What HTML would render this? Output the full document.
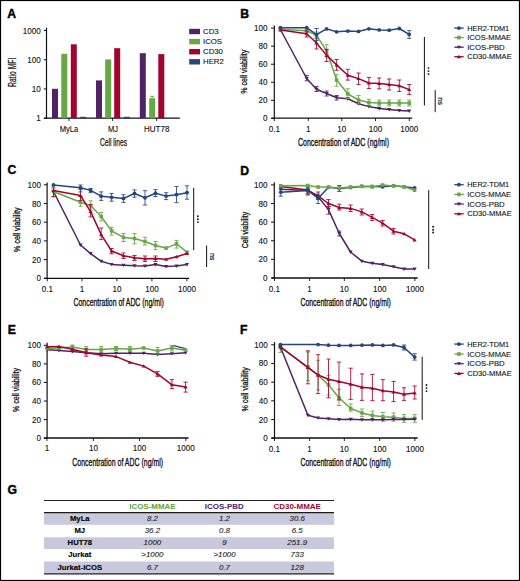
<!DOCTYPE html>
<html><head><meta charset="utf-8"><style>
html,body{margin:0;padding:0;background:#fff;}
svg{display:block;}
text{font-family:"Liberation Sans",sans-serif;}
</style></head><body>
<svg width="520" height="581" viewBox="0 0 520 581">
<rect x="0" y="0" width="520" height="581" fill="#fff"/>
<text x="7.2" y="17.6" font-size="12.2" text-anchor="start" stroke="#000" stroke-width="0.4" font-weight="bold" fill="#000">A</text>
<line x1="46.5" y1="27.7" x2="46.5" y2="118.7" stroke="#111" stroke-width="1.2"/>
<line x1="43.8" y1="118.2" x2="46.5" y2="118.2" stroke="#111" stroke-width="1"/>
<text x="40.8" y="121.2" font-size="8.9" text-anchor="end" stroke="#111" stroke-width="0.12" fill="#111" textLength="4.5" lengthAdjust="spacingAndGlyphs">1</text>
<line x1="43.8" y1="88.96666666666667" x2="46.5" y2="88.96666666666667" stroke="#111" stroke-width="1"/>
<text x="40.8" y="91.96666666666667" font-size="8.9" text-anchor="end" stroke="#111" stroke-width="0.12" fill="#111" textLength="9.01" lengthAdjust="spacingAndGlyphs">10</text>
<line x1="43.8" y1="59.733333333333334" x2="46.5" y2="59.733333333333334" stroke="#111" stroke-width="1"/>
<text x="40.8" y="62.733333333333334" font-size="8.9" text-anchor="end" stroke="#111" stroke-width="0.12" fill="#111" textLength="13.51" lengthAdjust="spacingAndGlyphs">100</text>
<line x1="43.8" y1="30.5" x2="46.5" y2="30.5" stroke="#111" stroke-width="1"/>
<text x="40.8" y="33.5" font-size="8.9" text-anchor="end" stroke="#111" stroke-width="0.12" fill="#111" textLength="18.02" lengthAdjust="spacingAndGlyphs">1000</text>
<line x1="44" y1="118.2" x2="179.8" y2="118.2" stroke="#111" stroke-width="1.3"/>
<line x1="69" y1="118.2" x2="69" y2="121" stroke="#111" stroke-width="0.9"/>
<line x1="112.6" y1="118.2" x2="112.6" y2="121" stroke="#111" stroke-width="0.9"/>
<line x1="156.6" y1="118.2" x2="156.6" y2="121" stroke="#111" stroke-width="0.9"/>
<rect x="52" y="88.8" width="6" height="29.400000000000006" fill="#502366"/>
<rect x="61.3" y="53.8" width="6" height="64.4" fill="#66a843"/>
<rect x="70.8" y="44.3" width="6" height="73.9" fill="#a3042f"/>
<rect x="80.1" y="116.8" width="6" height="1.4000000000000057" fill="#24467f"/>
<rect x="96" y="80.4" width="6" height="37.8" fill="#502366"/>
<rect x="105.2" y="59.4" width="6" height="58.800000000000004" fill="#66a843"/>
<rect x="114.2" y="48.2" width="6" height="70.0" fill="#a3042f"/>
<rect x="123.7" y="116.8" width="6" height="1.4000000000000057" fill="#24467f"/>
<rect x="139.8" y="53.2" width="6" height="65.0" fill="#502366"/>
<rect x="149.2" y="98.2" width="6" height="20.0" fill="#66a843"/>
<rect x="158.3" y="54.1" width="6" height="64.1" fill="#a3042f"/>
<line x1="150.2" y1="96.3" x2="154.2" y2="96.3" stroke="#66a843" stroke-width="1"/>
<line x1="152.2" y1="96.3" x2="152.2" y2="98.2" stroke="#66a843" stroke-width="1"/>
<text x="69" y="131.5" font-size="8.5" text-anchor="middle" stroke="#111" stroke-width="0.12" fill="#111" textLength="18.6" lengthAdjust="spacingAndGlyphs">MyLa</text>
<text x="113" y="131.7" font-size="8.5" text-anchor="middle" stroke="#111" stroke-width="0.12" fill="#111" textLength="10" lengthAdjust="spacingAndGlyphs">MJ</text>
<text x="156.7" y="131.7" font-size="8.5" text-anchor="middle" stroke="#111" stroke-width="0.12" fill="#111" textLength="25.4" lengthAdjust="spacingAndGlyphs">HUT78</text>
<text x="99.9" y="145.5" font-size="11.3" text-anchor="start" stroke="#111" stroke-width="0.25" fill="#111" textLength="27.2" lengthAdjust="spacingAndGlyphs">Cell lines</text>
<text x="15.8" y="72.3" font-size="11.6" text-anchor="middle" stroke="#111" stroke-width="0.25" fill="#111" textLength="29.3" lengthAdjust="spacingAndGlyphs" transform="rotate(-90 15.8 72.3)">Ratio MFI</text>
<rect x="189.2" y="28.8" width="10.8" height="5.4" fill="#502366"/>
<text x="203" y="34.0" font-size="7.8" text-anchor="start" stroke="#111" stroke-width="0.1" fill="#111">CD3</text>
<rect x="189.2" y="38.9" width="10.8" height="5.4" fill="#66a843"/>
<text x="203" y="44.1" font-size="7.8" text-anchor="start" stroke="#111" stroke-width="0.1" fill="#111">ICOS</text>
<rect x="189.2" y="49.0" width="10.8" height="5.4" fill="#a3042f"/>
<text x="203" y="54.2" font-size="7.8" text-anchor="start" stroke="#111" stroke-width="0.1" fill="#111">CD30</text>
<rect x="189.2" y="59.099999999999994" width="10.8" height="5.4" fill="#24467f"/>
<text x="203" y="64.3" font-size="7.8" text-anchor="start" stroke="#111" stroke-width="0.1" fill="#111">HER2</text>
<text x="240.2" y="17.7" font-size="12.2" text-anchor="start" stroke="#000" stroke-width="0.4" font-weight="bold" fill="#000">B</text>
<line x1="274.3" y1="25.4" x2="274.3" y2="118.8" stroke="#111" stroke-width="1.2"/>
<line x1="271.0" y1="118.4" x2="274.3" y2="118.4" stroke="#111" stroke-width="1"/>
<text x="267.6" y="121.4" font-size="8.9" text-anchor="end" stroke="#111" stroke-width="0.12" fill="#111" textLength="4.5" lengthAdjust="spacingAndGlyphs">0</text>
<line x1="271.0" y1="100.34" x2="274.3" y2="100.34" stroke="#111" stroke-width="1"/>
<text x="267.6" y="103.34" font-size="8.9" text-anchor="end" stroke="#111" stroke-width="0.12" fill="#111" textLength="9.01" lengthAdjust="spacingAndGlyphs">20</text>
<line x1="271.0" y1="82.28" x2="274.3" y2="82.28" stroke="#111" stroke-width="1"/>
<text x="267.6" y="85.28" font-size="8.9" text-anchor="end" stroke="#111" stroke-width="0.12" fill="#111" textLength="9.01" lengthAdjust="spacingAndGlyphs">40</text>
<line x1="271.0" y1="64.22" x2="274.3" y2="64.22" stroke="#111" stroke-width="1"/>
<text x="267.6" y="67.22" font-size="8.9" text-anchor="end" stroke="#111" stroke-width="0.12" fill="#111" textLength="9.01" lengthAdjust="spacingAndGlyphs">60</text>
<line x1="271.0" y1="46.16" x2="274.3" y2="46.16" stroke="#111" stroke-width="1"/>
<text x="267.6" y="49.16" font-size="8.9" text-anchor="end" stroke="#111" stroke-width="0.12" fill="#111" textLength="9.01" lengthAdjust="spacingAndGlyphs">80</text>
<line x1="271.0" y1="28.099999999999994" x2="274.3" y2="28.099999999999994" stroke="#111" stroke-width="1"/>
<text x="267.6" y="31.099999999999994" font-size="8.9" text-anchor="end" stroke="#111" stroke-width="0.12" fill="#111" textLength="13.51" lengthAdjust="spacingAndGlyphs">100</text>
<line x1="271.4" y1="118.2" x2="412.3" y2="118.2" stroke="#111" stroke-width="1.3"/>
<line x1="274.3" y1="118.2" x2="274.3" y2="121.2" stroke="#111" stroke-width="0.9"/>
<text x="274.3" y="131.9" font-size="8.9" text-anchor="middle" stroke="#111" stroke-width="0.12" fill="#111" textLength="11.26" lengthAdjust="spacingAndGlyphs">0.1</text>
<line x1="308.3" y1="118.2" x2="308.3" y2="121.2" stroke="#111" stroke-width="0.9"/>
<text x="308.3" y="131.9" font-size="8.9" text-anchor="middle" stroke="#111" stroke-width="0.12" fill="#111" textLength="4.5" lengthAdjust="spacingAndGlyphs">1</text>
<line x1="341.8" y1="118.2" x2="341.8" y2="121.2" stroke="#111" stroke-width="0.9"/>
<text x="341.8" y="131.9" font-size="8.9" text-anchor="middle" stroke="#111" stroke-width="0.12" fill="#111" textLength="9.01" lengthAdjust="spacingAndGlyphs">10</text>
<line x1="375.5" y1="118.2" x2="375.5" y2="121.2" stroke="#111" stroke-width="0.9"/>
<text x="375.5" y="131.9" font-size="8.9" text-anchor="middle" stroke="#111" stroke-width="0.12" fill="#111" textLength="13.51" lengthAdjust="spacingAndGlyphs">100</text>
<line x1="409.3" y1="118.2" x2="409.3" y2="121.2" stroke="#111" stroke-width="0.9"/>
<text x="409.3" y="131.9" font-size="8.9" text-anchor="middle" stroke="#111" stroke-width="0.12" fill="#111" textLength="18.02" lengthAdjust="spacingAndGlyphs">1000</text>
<text x="298" y="145.7" font-size="11.8" text-anchor="start" stroke="#111" stroke-width="0.35" fill="#111" textLength="91" lengthAdjust="spacingAndGlyphs">Concentration of ADC (ng/ml)</text>
<text x="247.3" y="71.75" font-size="9.3" text-anchor="middle" stroke="#111" stroke-width="0.3" fill="#111" textLength="43.9" lengthAdjust="spacingAndGlyphs" transform="rotate(-90 247.3 71.75)">% cell viability</text>
<line x1="454.3" y1="28.1" x2="463.7" y2="28.1" stroke="#24467f" stroke-width="1.3"/>
<circle cx="458.9" cy="28.1" r="1.9" fill="#24467f"/>
<text x="467.2" y="30.700000000000003" font-size="7.5" text-anchor="start" stroke="#111" stroke-width="0.1" fill="#111" textLength="42" lengthAdjust="spacingAndGlyphs">HER2-TDM1</text>
<line x1="454.3" y1="37.6" x2="463.7" y2="37.6" stroke="#66a843" stroke-width="1.3"/>
<rect x="457.09999999999997" y="35.800000000000004" width="3.6" height="3.6" fill="#66a843"/>
<text x="467.2" y="40.2" font-size="7.5" text-anchor="start" stroke="#111" stroke-width="0.1" fill="#111" textLength="44" lengthAdjust="spacingAndGlyphs">ICOS-MMAE</text>
<line x1="454.3" y1="47.2" x2="463.7" y2="47.2" stroke="#502366" stroke-width="1.3"/>
<path d="M456.79999999999995,45.7L461.0,45.7L458.9,49.1Z" fill="#502366"/>
<text x="467.2" y="49.800000000000004" font-size="7.5" text-anchor="start" stroke="#111" stroke-width="0.1" fill="#111" textLength="37.5" lengthAdjust="spacingAndGlyphs">ICOS-PBD</text>
<line x1="454.3" y1="56.7" x2="463.7" y2="56.7" stroke="#a3042f" stroke-width="1.3"/>
<path d="M456.79999999999995,58.2L461.0,58.2L458.9,54.800000000000004Z" fill="#a3042f"/>
<text x="467.2" y="59.300000000000004" font-size="7.5" text-anchor="start" stroke="#111" stroke-width="0.1" fill="#111" textLength="44.5" lengthAdjust="spacingAndGlyphs">CD30-MMAE</text>
<line x1="424.4" y1="37" x2="424.4" y2="105.5" stroke="#111" stroke-width="1"/>
<circle cx="428.5" cy="68.1" r="0.95" fill="#111"/>
<circle cx="428.5" cy="71.1" r="0.95" fill="#111"/>
<circle cx="428.5" cy="74.1" r="0.95" fill="#111"/>
<line x1="435.2" y1="90.2" x2="435.2" y2="112.2" stroke="#111" stroke-width="1"/>
<text x="438.1" y="101.1" font-size="7.4" text-anchor="middle" stroke="#111" stroke-width="0.2" fill="#111" textLength="7.799999999999997" lengthAdjust="spacingAndGlyphs" transform="rotate(90 438.1 101.1)">ns</text>
<path d="M280.4,29.5 L306.7,78.5 L316.5,89.2 L326.6,93.5 L336.6,97.7 L347.8,98.8 L358.5,103.8 L368.9,106.6 L379.2,108.5 L389.2,109.6 L399.3,110.6 L409.2,111.0" fill="none" stroke="#502366" stroke-width="1.5" stroke-linejoin="round"/>
<path d="M306.7,75.4V80.8M304.6,75.4H308.8M304.6,80.8H308.8" stroke="#502366" stroke-width="1" fill="none" opacity="0.85"/>
<path d="M316.5,86.5V91.5M314.4,86.5H318.6M314.4,91.5H318.6" stroke="#502366" stroke-width="1" fill="none" opacity="0.85"/>
<path d="M326.6,91.0V96.0M324.5,91.0H328.7M324.5,96.0H328.7" stroke="#502366" stroke-width="1" fill="none" opacity="0.85"/>
<path d="M336.6,95.5V100.0M334.5,95.5H338.7M334.5,100.0H338.7" stroke="#502366" stroke-width="1" fill="none" opacity="0.85"/>
<path d="M278.29999999999995,28.0L282.5,28.0L280.4,31.4Z" fill="#502366"/>
<path d="M304.59999999999997,77.0L308.8,77.0L306.7,80.4Z" fill="#502366"/>
<path d="M314.4,87.7L318.6,87.7L316.5,91.10000000000001Z" fill="#502366"/>
<path d="M324.5,92.0L328.70000000000005,92.0L326.6,95.4Z" fill="#502366"/>
<path d="M334.5,96.2L338.70000000000005,96.2L336.6,99.60000000000001Z" fill="#502366"/>
<path d="M345.7,97.3L349.90000000000003,97.3L347.8,100.7Z" fill="#502366"/>
<path d="M356.4,102.3L360.6,102.3L358.5,105.7Z" fill="#502366"/>
<path d="M366.79999999999995,105.1L371.0,105.1L368.9,108.5Z" fill="#502366"/>
<path d="M377.09999999999997,107.0L381.3,107.0L379.2,110.4Z" fill="#502366"/>
<path d="M387.09999999999997,108.1L391.3,108.1L389.2,111.5Z" fill="#502366"/>
<path d="M397.2,109.1L401.40000000000003,109.1L399.3,112.5Z" fill="#502366"/>
<path d="M407.09999999999997,109.5L411.3,109.5L409.2,112.9Z" fill="#502366"/>
<path d="M280.4,29.2 L306.7,30.8 L316.5,35.4 L326.6,50.8 L336.6,80.0 L347.8,93.8 L358.5,100.0 L368.9,102.6 L379.2,103.0 L389.2,103.1 L399.3,103.1 L409.2,103.1" fill="none" stroke="#66a843" stroke-width="1.5" stroke-linejoin="round"/>
<path d="M306.7,29.0V33.0M304.6,29.0H308.8M304.6,33.0H308.8" stroke="#66a843" stroke-width="1" fill="none" opacity="0.85"/>
<path d="M316.5,32.0V39.0M314.4,32.0H318.6M314.4,39.0H318.6" stroke="#66a843" stroke-width="1" fill="none" opacity="0.85"/>
<path d="M326.6,44.7V57.0M324.5,44.7H328.7M324.5,57.0H328.7" stroke="#66a843" stroke-width="1" fill="none" opacity="0.85"/>
<path d="M336.6,74.6V86.2M334.5,74.6H338.7M334.5,86.2H338.7" stroke="#66a843" stroke-width="1" fill="none" opacity="0.85"/>
<path d="M347.8,88.8V98.5M345.7,88.8H349.9M345.7,98.5H349.9" stroke="#66a843" stroke-width="1" fill="none" opacity="0.85"/>
<path d="M358.5,95.4V103.8M356.4,95.4H360.6M356.4,103.8H360.6" stroke="#66a843" stroke-width="1" fill="none" opacity="0.85"/>
<path d="M368.9,99.2V106.0M366.8,99.2H371.0M366.8,106.0H371.0" stroke="#66a843" stroke-width="1" fill="none" opacity="0.85"/>
<path d="M379.2,100.0V106.0M377.1,100.0H381.3M377.1,106.0H381.3" stroke="#66a843" stroke-width="1" fill="none" opacity="0.85"/>
<path d="M389.2,100.0V106.0M387.1,100.0H391.3M387.1,106.0H391.3" stroke="#66a843" stroke-width="1" fill="none" opacity="0.85"/>
<path d="M399.3,100.0V106.0M397.2,100.0H401.4M397.2,106.0H401.4" stroke="#66a843" stroke-width="1" fill="none" opacity="0.85"/>
<path d="M409.2,100.0V106.0M407.1,100.0H411.3M407.1,106.0H411.3" stroke="#66a843" stroke-width="1" fill="none" opacity="0.85"/>
<rect x="278.59999999999997" y="27.4" width="3.6" height="3.6" fill="#66a843"/>
<rect x="304.9" y="29.0" width="3.6" height="3.6" fill="#66a843"/>
<rect x="314.7" y="33.6" width="3.6" height="3.6" fill="#66a843"/>
<rect x="324.8" y="49.0" width="3.6" height="3.6" fill="#66a843"/>
<rect x="334.8" y="78.2" width="3.6" height="3.6" fill="#66a843"/>
<rect x="346.0" y="92.0" width="3.6" height="3.6" fill="#66a843"/>
<rect x="356.7" y="98.2" width="3.6" height="3.6" fill="#66a843"/>
<rect x="367.09999999999997" y="100.8" width="3.6" height="3.6" fill="#66a843"/>
<rect x="377.4" y="101.2" width="3.6" height="3.6" fill="#66a843"/>
<rect x="387.4" y="101.3" width="3.6" height="3.6" fill="#66a843"/>
<rect x="397.5" y="101.3" width="3.6" height="3.6" fill="#66a843"/>
<rect x="407.4" y="101.3" width="3.6" height="3.6" fill="#66a843"/>
<path d="M280.4,30.0 L306.7,33.8 L316.5,43.0 L326.6,55.4 L336.6,64.9 L347.8,75.2 L358.5,78.6 L368.9,83.0 L379.2,83.4 L389.2,84.6 L399.3,85.8 L409.2,89.6" fill="none" stroke="#a3042f" stroke-width="1.5" stroke-linejoin="round"/>
<path d="M306.7,31.0V37.0M304.6,31.0H308.8M304.6,37.0H308.8" stroke="#a3042f" stroke-width="1" fill="none" opacity="0.85"/>
<path d="M316.5,38.0V49.0M314.4,38.0H318.6M314.4,49.0H318.6" stroke="#a3042f" stroke-width="1" fill="none" opacity="0.85"/>
<path d="M326.6,49.4V61.5M324.5,49.4H328.7M324.5,61.5H328.7" stroke="#a3042f" stroke-width="1" fill="none" opacity="0.85"/>
<path d="M336.6,59.5V70.3M334.5,59.5H338.7M334.5,70.3H338.7" stroke="#a3042f" stroke-width="1" fill="none" opacity="0.85"/>
<path d="M347.8,69.3V80.1M345.7,69.3H349.9M345.7,80.1H349.9" stroke="#a3042f" stroke-width="1" fill="none" opacity="0.85"/>
<path d="M358.5,73.0V84.6M356.4,73.0H360.6M356.4,84.6H360.6" stroke="#a3042f" stroke-width="1" fill="none" opacity="0.85"/>
<path d="M368.9,77.4V88.5M366.8,77.4H371.0M366.8,88.5H371.0" stroke="#a3042f" stroke-width="1" fill="none" opacity="0.85"/>
<path d="M379.2,78.0V88.8M377.1,78.0H381.3M377.1,88.8H381.3" stroke="#a3042f" stroke-width="1" fill="none" opacity="0.85"/>
<path d="M389.2,79.0V90.0M387.1,79.0H391.3M387.1,90.0H391.3" stroke="#a3042f" stroke-width="1" fill="none" opacity="0.85"/>
<path d="M399.3,80.0V91.5M397.2,80.0H401.4M397.2,91.5H401.4" stroke="#a3042f" stroke-width="1" fill="none" opacity="0.85"/>
<path d="M409.2,84.5V94.5M407.1,84.5H411.3M407.1,94.5H411.3" stroke="#a3042f" stroke-width="1" fill="none" opacity="0.85"/>
<path d="M278.29999999999995,31.5L282.5,31.5L280.4,28.1Z" fill="#a3042f"/>
<path d="M304.59999999999997,35.3L308.8,35.3L306.7,31.9Z" fill="#a3042f"/>
<path d="M314.4,44.5L318.6,44.5L316.5,41.1Z" fill="#a3042f"/>
<path d="M324.5,56.9L328.70000000000005,56.9L326.6,53.5Z" fill="#a3042f"/>
<path d="M334.5,66.4L338.70000000000005,66.4L336.6,63.00000000000001Z" fill="#a3042f"/>
<path d="M345.7,76.7L349.90000000000003,76.7L347.8,73.3Z" fill="#a3042f"/>
<path d="M356.4,80.1L360.6,80.1L358.5,76.69999999999999Z" fill="#a3042f"/>
<path d="M366.79999999999995,84.5L371.0,84.5L368.9,81.1Z" fill="#a3042f"/>
<path d="M377.09999999999997,84.9L381.3,84.9L379.2,81.5Z" fill="#a3042f"/>
<path d="M387.09999999999997,86.1L391.3,86.1L389.2,82.69999999999999Z" fill="#a3042f"/>
<path d="M397.2,87.3L401.40000000000003,87.3L399.3,83.89999999999999Z" fill="#a3042f"/>
<path d="M407.09999999999997,91.1L411.3,91.1L409.2,87.69999999999999Z" fill="#a3042f"/>
<path d="M280.4,27.7 L306.7,27.7 L316.5,34.6 L326.6,28.9 L336.6,31.8 L347.8,31.1 L358.5,31.4 L368.9,28.8 L379.2,29.9 L389.2,30.2 L399.3,28.5 L409.2,34.4" fill="none" stroke="#24467f" stroke-width="1.5" stroke-linejoin="round"/>
<path d="M316.5,28.5V40.5M314.4,28.5H318.6M314.4,40.5H318.6" stroke="#24467f" stroke-width="1" fill="none" opacity="0.85"/>
<path d="M409.2,30.6V38.4M407.1,30.6H411.3M407.1,38.4H411.3" stroke="#24467f" stroke-width="1" fill="none" opacity="0.85"/>
<circle cx="280.4" cy="27.7" r="1.9" fill="#24467f"/>
<circle cx="306.7" cy="27.7" r="1.9" fill="#24467f"/>
<circle cx="316.5" cy="34.6" r="1.9" fill="#24467f"/>
<circle cx="326.6" cy="28.9" r="1.9" fill="#24467f"/>
<circle cx="336.6" cy="31.8" r="1.9" fill="#24467f"/>
<circle cx="347.8" cy="31.1" r="1.9" fill="#24467f"/>
<circle cx="358.5" cy="31.4" r="1.9" fill="#24467f"/>
<circle cx="368.9" cy="28.8" r="1.9" fill="#24467f"/>
<circle cx="379.2" cy="29.9" r="1.9" fill="#24467f"/>
<circle cx="389.2" cy="30.2" r="1.9" fill="#24467f"/>
<circle cx="399.3" cy="28.5" r="1.9" fill="#24467f"/>
<circle cx="409.2" cy="34.4" r="1.9" fill="#24467f"/>
<text x="7.5" y="174.4" font-size="12.2" text-anchor="start" stroke="#000" stroke-width="0.4" font-weight="bold" fill="#000">C</text>
<line x1="47.1" y1="182.5" x2="47.1" y2="278.90000000000003" stroke="#111" stroke-width="1.2"/>
<line x1="43.800000000000004" y1="278.3" x2="47.1" y2="278.3" stroke="#111" stroke-width="1"/>
<text x="40.9" y="281.3" font-size="8.9" text-anchor="end" stroke="#111" stroke-width="0.12" fill="#111" textLength="4.5" lengthAdjust="spacingAndGlyphs">0</text>
<line x1="43.800000000000004" y1="259.6" x2="47.1" y2="259.6" stroke="#111" stroke-width="1"/>
<text x="40.9" y="262.6" font-size="8.9" text-anchor="end" stroke="#111" stroke-width="0.12" fill="#111" textLength="9.01" lengthAdjust="spacingAndGlyphs">20</text>
<line x1="43.800000000000004" y1="240.9" x2="47.1" y2="240.9" stroke="#111" stroke-width="1"/>
<text x="40.9" y="243.9" font-size="8.9" text-anchor="end" stroke="#111" stroke-width="0.12" fill="#111" textLength="9.01" lengthAdjust="spacingAndGlyphs">40</text>
<line x1="43.800000000000004" y1="222.20000000000002" x2="47.1" y2="222.20000000000002" stroke="#111" stroke-width="1"/>
<text x="40.9" y="225.20000000000002" font-size="8.9" text-anchor="end" stroke="#111" stroke-width="0.12" fill="#111" textLength="9.01" lengthAdjust="spacingAndGlyphs">60</text>
<line x1="43.800000000000004" y1="203.5" x2="47.1" y2="203.5" stroke="#111" stroke-width="1"/>
<text x="40.9" y="206.5" font-size="8.9" text-anchor="end" stroke="#111" stroke-width="0.12" fill="#111" textLength="9.01" lengthAdjust="spacingAndGlyphs">80</text>
<line x1="43.800000000000004" y1="184.8" x2="47.1" y2="184.8" stroke="#111" stroke-width="1"/>
<text x="40.9" y="187.8" font-size="8.9" text-anchor="end" stroke="#111" stroke-width="0.12" fill="#111" textLength="13.51" lengthAdjust="spacingAndGlyphs">100</text>
<line x1="44" y1="278.3" x2="189.2" y2="278.3" stroke="#111" stroke-width="1.3"/>
<line x1="47.3" y1="278.3" x2="47.3" y2="281.3" stroke="#111" stroke-width="0.9"/>
<text x="47.3" y="291.7" font-size="8.9" text-anchor="middle" stroke="#111" stroke-width="0.12" fill="#111" textLength="11.26" lengthAdjust="spacingAndGlyphs">0.1</text>
<line x1="82" y1="278.3" x2="82" y2="281.3" stroke="#111" stroke-width="0.9"/>
<text x="82" y="291.7" font-size="8.9" text-anchor="middle" stroke="#111" stroke-width="0.12" fill="#111" textLength="4.5" lengthAdjust="spacingAndGlyphs">1</text>
<line x1="116.9" y1="278.3" x2="116.9" y2="281.3" stroke="#111" stroke-width="0.9"/>
<text x="116.9" y="291.7" font-size="8.9" text-anchor="middle" stroke="#111" stroke-width="0.12" fill="#111" textLength="9.01" lengthAdjust="spacingAndGlyphs">10</text>
<line x1="151.9" y1="278.3" x2="151.9" y2="281.3" stroke="#111" stroke-width="0.9"/>
<text x="151.9" y="291.7" font-size="8.9" text-anchor="middle" stroke="#111" stroke-width="0.12" fill="#111" textLength="13.51" lengthAdjust="spacingAndGlyphs">100</text>
<line x1="186.9" y1="278.3" x2="186.9" y2="281.3" stroke="#111" stroke-width="0.9"/>
<text x="186.9" y="291.7" font-size="8.9" text-anchor="middle" stroke="#111" stroke-width="0.12" fill="#111" textLength="18.02" lengthAdjust="spacingAndGlyphs">1000</text>
<text x="73.5" y="305.8" font-size="11.8" text-anchor="start" stroke="#111" stroke-width="0.35" fill="#111" textLength="90.3" lengthAdjust="spacingAndGlyphs">Concentration of ADC (ng/ml)</text>
<text x="20.2" y="229.7" font-size="9.3" text-anchor="middle" stroke="#111" stroke-width="0.3" fill="#111" textLength="44.6" lengthAdjust="spacingAndGlyphs" transform="rotate(-90 20.2 229.7)">% cell viability</text>
<path d="M53.5,191.5 L80.5,245.0 L90.6,253.6 L101.2,261.3 L111.6,264.4 L123.5,265.2 L134.5,265.8 L145.0,266.1 L155.5,264.5 L166.1,266.5 L176.5,266.1 L187.0,264.5" fill="none" stroke="#502366" stroke-width="1.5" stroke-linejoin="round"/>
<path d="M51.4,190.0L55.6,190.0L53.5,193.4Z" fill="#502366"/>
<path d="M78.4,243.5L82.6,243.5L80.5,246.9Z" fill="#502366"/>
<path d="M88.5,252.1L92.69999999999999,252.1L90.6,255.5Z" fill="#502366"/>
<path d="M99.10000000000001,259.8L103.3,259.8L101.2,263.2Z" fill="#502366"/>
<path d="M109.5,262.9L113.69999999999999,262.9L111.6,266.29999999999995Z" fill="#502366"/>
<path d="M121.4,263.7L125.6,263.7L123.5,267.09999999999997Z" fill="#502366"/>
<path d="M132.4,264.3L136.6,264.3L134.5,267.7Z" fill="#502366"/>
<path d="M142.9,264.6L147.1,264.6L145,268.0Z" fill="#502366"/>
<path d="M153.4,263.0L157.6,263.0L155.5,266.4Z" fill="#502366"/>
<path d="M164.0,265.0L168.2,265.0L166.1,268.4Z" fill="#502366"/>
<path d="M174.4,264.6L178.6,264.6L176.5,268.0Z" fill="#502366"/>
<path d="M184.9,263.0L189.1,263.0L187,266.4Z" fill="#502366"/>
<path d="M53.5,191.5 L80.5,202.3 L90.6,205.6 L101.2,216.5 L111.6,230.9 L123.5,237.4 L134.5,238.5 L145.0,241.5 L155.5,245.5 L166.1,248.1 L176.5,243.9 L187.0,252.2" fill="none" stroke="#66a843" stroke-width="1.5" stroke-linejoin="round"/>
<path d="M53.5,186.0V197.0M51.4,186.0H55.6M51.4,197.0H55.6" stroke="#66a843" stroke-width="1" fill="none" opacity="0.85"/>
<path d="M80.5,196.9V206.2M78.4,196.9H82.6M78.4,206.2H82.6" stroke="#66a843" stroke-width="1" fill="none" opacity="0.85"/>
<path d="M90.6,200.8V210.2M88.5,200.8H92.7M88.5,210.2H92.7" stroke="#66a843" stroke-width="1" fill="none" opacity="0.85"/>
<path d="M101.2,212.5V221.0M99.1,212.5H103.3M99.1,221.0H103.3" stroke="#66a843" stroke-width="1" fill="none" opacity="0.85"/>
<path d="M111.6,227.2V235.0M109.5,227.2H113.7M109.5,235.0H113.7" stroke="#66a843" stroke-width="1" fill="none" opacity="0.85"/>
<path d="M123.5,233.5V241.5M121.4,233.5H125.6M121.4,241.5H125.6" stroke="#66a843" stroke-width="1" fill="none" opacity="0.85"/>
<path d="M134.5,233.5V243.9M132.4,233.5H136.6M132.4,243.9H136.6" stroke="#66a843" stroke-width="1" fill="none" opacity="0.85"/>
<path d="M145.0,237.3V245.0M142.9,237.3H147.1M142.9,245.0H147.1" stroke="#66a843" stroke-width="1" fill="none" opacity="0.85"/>
<path d="M155.5,241.5V249.6M153.4,241.5H157.6M153.4,249.6H157.6" stroke="#66a843" stroke-width="1" fill="none" opacity="0.85"/>
<path d="M176.5,240.4V248.1M174.4,240.4H178.6M174.4,248.1H178.6" stroke="#66a843" stroke-width="1" fill="none" opacity="0.85"/>
<rect x="51.7" y="189.7" width="3.6" height="3.6" fill="#66a843"/>
<rect x="78.7" y="200.5" width="3.6" height="3.6" fill="#66a843"/>
<rect x="88.8" y="203.79999999999998" width="3.6" height="3.6" fill="#66a843"/>
<rect x="99.4" y="214.7" width="3.6" height="3.6" fill="#66a843"/>
<rect x="109.8" y="229.1" width="3.6" height="3.6" fill="#66a843"/>
<rect x="121.7" y="235.6" width="3.6" height="3.6" fill="#66a843"/>
<rect x="132.7" y="236.7" width="3.6" height="3.6" fill="#66a843"/>
<rect x="143.2" y="239.7" width="3.6" height="3.6" fill="#66a843"/>
<rect x="153.7" y="243.7" width="3.6" height="3.6" fill="#66a843"/>
<rect x="164.29999999999998" y="246.29999999999998" width="3.6" height="3.6" fill="#66a843"/>
<rect x="174.7" y="242.1" width="3.6" height="3.6" fill="#66a843"/>
<rect x="185.2" y="250.39999999999998" width="3.6" height="3.6" fill="#66a843"/>
<path d="M53.5,190.6 L80.5,195.5 L90.6,211.6 L101.2,234.6 L111.6,251.0 L123.5,255.8 L134.5,257.8 L145.0,258.8 L155.5,258.5 L166.1,259.3 L176.5,256.8 L187.0,253.5" fill="none" stroke="#a3042f" stroke-width="1.5" stroke-linejoin="round"/>
<path d="M53.5,188.0V196.5M51.4,188.0H55.6M51.4,196.5H55.6" stroke="#a3042f" stroke-width="1" fill="none" opacity="0.85"/>
<path d="M80.5,189.6V200.4M78.4,189.6H82.6M78.4,200.4H82.6" stroke="#a3042f" stroke-width="1" fill="none" opacity="0.85"/>
<path d="M90.6,204.6V216.9M88.5,204.6H92.7M88.5,216.9H92.7" stroke="#a3042f" stroke-width="1" fill="none" opacity="0.85"/>
<path d="M101.2,228.0V239.6M99.1,228.0H103.3M99.1,239.6H103.3" stroke="#a3042f" stroke-width="1" fill="none" opacity="0.85"/>
<path d="M111.6,248.5V253.8M109.5,248.5H113.7M109.5,253.8H113.7" stroke="#a3042f" stroke-width="1" fill="none" opacity="0.85"/>
<path d="M123.5,253.0V258.5M121.4,253.0H125.6M121.4,258.5H125.6" stroke="#a3042f" stroke-width="1" fill="none" opacity="0.85"/>
<path d="M134.5,255.5V260.5M132.4,255.5H136.6M132.4,260.5H136.6" stroke="#a3042f" stroke-width="1" fill="none" opacity="0.85"/>
<path d="M145.0,256.0V261.5M142.9,256.0H147.1M142.9,261.5H147.1" stroke="#a3042f" stroke-width="1" fill="none" opacity="0.85"/>
<path d="M155.5,256.0V261.5M153.4,256.0H157.6M153.4,261.5H157.6" stroke="#a3042f" stroke-width="1" fill="none" opacity="0.85"/>
<path d="M51.4,192.1L55.6,192.1L53.5,188.7Z" fill="#a3042f"/>
<path d="M78.4,197.0L82.6,197.0L80.5,193.6Z" fill="#a3042f"/>
<path d="M88.5,213.1L92.69999999999999,213.1L90.6,209.7Z" fill="#a3042f"/>
<path d="M99.10000000000001,236.1L103.3,236.1L101.2,232.7Z" fill="#a3042f"/>
<path d="M109.5,252.5L113.69999999999999,252.5L111.6,249.1Z" fill="#a3042f"/>
<path d="M121.4,257.3L125.6,257.3L123.5,253.9Z" fill="#a3042f"/>
<path d="M132.4,259.3L136.6,259.3L134.5,255.9Z" fill="#a3042f"/>
<path d="M142.9,260.3L147.1,260.3L145,256.90000000000003Z" fill="#a3042f"/>
<path d="M153.4,260.0L157.6,260.0L155.5,256.6Z" fill="#a3042f"/>
<path d="M164.0,260.8L168.2,260.8L166.1,257.40000000000003Z" fill="#a3042f"/>
<path d="M174.4,258.3L178.6,258.3L176.5,254.9Z" fill="#a3042f"/>
<path d="M184.9,255.0L189.1,255.0L187,251.6Z" fill="#a3042f"/>
<path d="M53.5,185.0 L80.5,187.7 L90.6,190.4 L101.2,196.2 L111.6,197.3 L123.5,198.4 L134.5,193.5 L145.0,197.8 L155.5,193.2 L166.1,196.1 L176.5,194.7 L187.0,192.7" fill="none" stroke="#24467f" stroke-width="1.5" stroke-linejoin="round"/>
<path d="M80.5,185.0V191.9M78.4,185.0H82.6M78.4,191.9H82.6" stroke="#24467f" stroke-width="1" fill="none" opacity="0.85"/>
<path d="M90.6,188.5V192.7M88.5,188.5H92.7M88.5,192.7H92.7" stroke="#24467f" stroke-width="1" fill="none" opacity="0.85"/>
<path d="M101.2,191.9V200.4M99.1,191.9H103.3M99.1,200.4H103.3" stroke="#24467f" stroke-width="1" fill="none" opacity="0.85"/>
<path d="M111.6,193.5V201.2M109.5,193.5H113.7M109.5,201.2H113.7" stroke="#24467f" stroke-width="1" fill="none" opacity="0.85"/>
<path d="M123.5,194.7V202.4M121.4,194.7H125.6M121.4,202.4H125.6" stroke="#24467f" stroke-width="1" fill="none" opacity="0.85"/>
<path d="M134.5,189.9V197.3M132.4,189.9H136.6M132.4,197.3H136.6" stroke="#24467f" stroke-width="1" fill="none" opacity="0.85"/>
<path d="M145.0,190.7V205.0M142.9,190.7H147.1M142.9,205.0H147.1" stroke="#24467f" stroke-width="1" fill="none" opacity="0.85"/>
<path d="M155.5,189.6V196.5M153.4,189.6H157.6M153.4,196.5H157.6" stroke="#24467f" stroke-width="1" fill="none" opacity="0.85"/>
<path d="M166.1,192.7V199.6M164.0,192.7H168.2M164.0,199.6H168.2" stroke="#24467f" stroke-width="1" fill="none" opacity="0.85"/>
<path d="M176.5,186.5V202.7M174.4,186.5H178.6M174.4,202.7H178.6" stroke="#24467f" stroke-width="1" fill="none" opacity="0.85"/>
<path d="M187.0,185.8V199.2M184.9,185.8H189.1M184.9,199.2H189.1" stroke="#24467f" stroke-width="1" fill="none" opacity="0.85"/>
<circle cx="53.5" cy="185" r="1.9" fill="#24467f"/>
<circle cx="80.5" cy="187.7" r="1.9" fill="#24467f"/>
<circle cx="90.6" cy="190.4" r="1.9" fill="#24467f"/>
<circle cx="101.2" cy="196.2" r="1.9" fill="#24467f"/>
<circle cx="111.6" cy="197.3" r="1.9" fill="#24467f"/>
<circle cx="123.5" cy="198.4" r="1.9" fill="#24467f"/>
<circle cx="134.5" cy="193.5" r="1.9" fill="#24467f"/>
<circle cx="145" cy="197.8" r="1.9" fill="#24467f"/>
<circle cx="155.5" cy="193.2" r="1.9" fill="#24467f"/>
<circle cx="166.1" cy="196.1" r="1.9" fill="#24467f"/>
<circle cx="176.5" cy="194.7" r="1.9" fill="#24467f"/>
<circle cx="187" cy="192.7" r="1.9" fill="#24467f"/>
<line x1="193.7" y1="187.8" x2="193.7" y2="250.3" stroke="#111" stroke-width="1"/>
<circle cx="197.9" cy="216.3" r="0.95" fill="#111"/>
<circle cx="197.9" cy="219.2" r="0.95" fill="#111"/>
<circle cx="197.9" cy="222.1" r="0.95" fill="#111"/>
<line x1="206.6" y1="245.5" x2="206.6" y2="267" stroke="#111" stroke-width="1"/>
<text x="210.2" y="256.75" font-size="7.4" text-anchor="middle" stroke="#111" stroke-width="0.2" fill="#111" textLength="6.899999999999977" lengthAdjust="spacingAndGlyphs" transform="rotate(90 210.2 256.75)">ns</text>
<text x="240.2" y="174.5" font-size="12.2" text-anchor="start" stroke="#000" stroke-width="0.4" font-weight="bold" fill="#000">D</text>
<line x1="274.3" y1="182.3" x2="274.3" y2="278.6" stroke="#111" stroke-width="1.2"/>
<line x1="271.0" y1="278.0" x2="274.3" y2="278.0" stroke="#111" stroke-width="1"/>
<text x="267.6" y="281.0" font-size="8.9" text-anchor="end" stroke="#111" stroke-width="0.12" fill="#111" textLength="4.5" lengthAdjust="spacingAndGlyphs">0</text>
<line x1="271.0" y1="259.38" x2="274.3" y2="259.38" stroke="#111" stroke-width="1"/>
<text x="267.6" y="262.38" font-size="8.9" text-anchor="end" stroke="#111" stroke-width="0.12" fill="#111" textLength="9.01" lengthAdjust="spacingAndGlyphs">20</text>
<line x1="271.0" y1="240.76" x2="274.3" y2="240.76" stroke="#111" stroke-width="1"/>
<text x="267.6" y="243.76" font-size="8.9" text-anchor="end" stroke="#111" stroke-width="0.12" fill="#111" textLength="9.01" lengthAdjust="spacingAndGlyphs">40</text>
<line x1="271.0" y1="222.14" x2="274.3" y2="222.14" stroke="#111" stroke-width="1"/>
<text x="267.6" y="225.14" font-size="8.9" text-anchor="end" stroke="#111" stroke-width="0.12" fill="#111" textLength="9.01" lengthAdjust="spacingAndGlyphs">60</text>
<line x1="271.0" y1="203.51999999999998" x2="274.3" y2="203.51999999999998" stroke="#111" stroke-width="1"/>
<text x="267.6" y="206.51999999999998" font-size="8.9" text-anchor="end" stroke="#111" stroke-width="0.12" fill="#111" textLength="9.01" lengthAdjust="spacingAndGlyphs">80</text>
<line x1="271.0" y1="184.9" x2="274.3" y2="184.9" stroke="#111" stroke-width="1"/>
<text x="267.6" y="187.9" font-size="8.9" text-anchor="end" stroke="#111" stroke-width="0.12" fill="#111" textLength="13.51" lengthAdjust="spacingAndGlyphs">100</text>
<line x1="271.4" y1="278" x2="417.7" y2="278" stroke="#111" stroke-width="1.3"/>
<line x1="274.5" y1="278" x2="274.5" y2="281" stroke="#111" stroke-width="0.9"/>
<text x="274.5" y="291.7" font-size="8.9" text-anchor="middle" stroke="#111" stroke-width="0.12" fill="#111" textLength="11.26" lengthAdjust="spacingAndGlyphs">0.1</text>
<line x1="309.6" y1="278" x2="309.6" y2="281" stroke="#111" stroke-width="0.9"/>
<text x="309.6" y="291.7" font-size="8.9" text-anchor="middle" stroke="#111" stroke-width="0.12" fill="#111" textLength="4.5" lengthAdjust="spacingAndGlyphs">1</text>
<line x1="344.3" y1="278" x2="344.3" y2="281" stroke="#111" stroke-width="0.9"/>
<text x="344.3" y="291.7" font-size="8.9" text-anchor="middle" stroke="#111" stroke-width="0.12" fill="#111" textLength="9.01" lengthAdjust="spacingAndGlyphs">10</text>
<line x1="379.7" y1="278" x2="379.7" y2="281" stroke="#111" stroke-width="0.9"/>
<text x="379.7" y="291.7" font-size="8.9" text-anchor="middle" stroke="#111" stroke-width="0.12" fill="#111" textLength="13.51" lengthAdjust="spacingAndGlyphs">100</text>
<line x1="414.9" y1="278" x2="414.9" y2="281" stroke="#111" stroke-width="0.9"/>
<text x="414.9" y="291.7" font-size="8.9" text-anchor="middle" stroke="#111" stroke-width="0.12" fill="#111" textLength="18.02" lengthAdjust="spacingAndGlyphs">1000</text>
<text x="300.4" y="305.7" font-size="11.8" text-anchor="start" stroke="#111" stroke-width="0.35" fill="#111" textLength="90.4" lengthAdjust="spacingAndGlyphs">Concentration of ADC (ng/ml)</text>
<text x="248" y="230" font-size="9.3" text-anchor="middle" stroke="#111" stroke-width="0.3" fill="#111" textLength="36.4" lengthAdjust="spacingAndGlyphs" transform="rotate(-90 248 230)">Cell viability</text>
<line x1="454.3" y1="184.7" x2="463.7" y2="184.7" stroke="#24467f" stroke-width="1.3"/>
<circle cx="458.9" cy="184.7" r="1.9" fill="#24467f"/>
<text x="467.2" y="187.29999999999998" font-size="7.5" text-anchor="start" stroke="#111" stroke-width="0.1" fill="#111" textLength="42" lengthAdjust="spacingAndGlyphs">HER2-TDM1</text>
<line x1="454.3" y1="194.4" x2="463.7" y2="194.4" stroke="#66a843" stroke-width="1.3"/>
<rect x="457.09999999999997" y="192.6" width="3.6" height="3.6" fill="#66a843"/>
<text x="467.2" y="197.0" font-size="7.5" text-anchor="start" stroke="#111" stroke-width="0.1" fill="#111" textLength="44" lengthAdjust="spacingAndGlyphs">ICOS-MMAE</text>
<line x1="454.3" y1="204" x2="463.7" y2="204" stroke="#502366" stroke-width="1.3"/>
<path d="M456.79999999999995,202.5L461.0,202.5L458.9,205.9Z" fill="#502366"/>
<text x="467.2" y="206.6" font-size="7.5" text-anchor="start" stroke="#111" stroke-width="0.1" fill="#111" textLength="37.5" lengthAdjust="spacingAndGlyphs">ICOS-PBD</text>
<line x1="454.3" y1="213.8" x2="463.7" y2="213.8" stroke="#a3042f" stroke-width="1.3"/>
<path d="M456.79999999999995,215.3L461.0,215.3L458.9,211.9Z" fill="#a3042f"/>
<text x="467.2" y="216.4" font-size="7.5" text-anchor="start" stroke="#111" stroke-width="0.1" fill="#111" textLength="44.5" lengthAdjust="spacingAndGlyphs">CD30-MMAE</text>
<path d="M280.8,189.2 L307.8,190.4 L318.1,196.8 L328.5,209.6 L339.3,233.5 L350.6,252.0 L361.8,261.2 L372.2,263.3 L382.6,264.6 L393.5,266.7 L404.2,269.0 L414.6,269.0" fill="none" stroke="#502366" stroke-width="1.5" stroke-linejoin="round"/>
<path d="M307.8,189.0V195.0M305.7,189.0H309.9M305.7,195.0H309.9" stroke="#502366" stroke-width="1" fill="none" opacity="0.85"/>
<path d="M328.5,207.0V214.2M326.4,207.0H330.6M326.4,214.2H330.6" stroke="#502366" stroke-width="1" fill="none" opacity="0.85"/>
<path d="M339.3,231.0V236.0M337.2,231.0H341.4M337.2,236.0H341.4" stroke="#502366" stroke-width="1" fill="none" opacity="0.85"/>
<path d="M278.7,187.7L282.90000000000003,187.7L280.8,191.1Z" fill="#502366"/>
<path d="M305.7,188.9L309.90000000000003,188.9L307.8,192.3Z" fill="#502366"/>
<path d="M316.0,195.3L320.20000000000005,195.3L318.1,198.70000000000002Z" fill="#502366"/>
<path d="M326.4,208.1L330.6,208.1L328.5,211.5Z" fill="#502366"/>
<path d="M337.2,232.0L341.40000000000003,232.0L339.3,235.4Z" fill="#502366"/>
<path d="M348.5,250.5L352.70000000000005,250.5L350.6,253.9Z" fill="#502366"/>
<path d="M359.7,259.7L363.90000000000003,259.7L361.8,263.09999999999997Z" fill="#502366"/>
<path d="M370.09999999999997,261.8L374.3,261.8L372.2,265.2Z" fill="#502366"/>
<path d="M380.5,263.1L384.70000000000005,263.1L382.6,266.5Z" fill="#502366"/>
<path d="M391.4,265.2L395.6,265.2L393.5,268.59999999999997Z" fill="#502366"/>
<path d="M402.09999999999997,267.5L406.3,267.5L404.2,270.9Z" fill="#502366"/>
<path d="M412.5,267.5L416.70000000000005,267.5L414.6,270.9Z" fill="#502366"/>
<path d="M280.8,186.5 L307.8,190.1 L318.1,195.8 L328.5,203.5 L339.3,207.5 L350.6,208.4 L361.8,211.9 L372.2,217.4 L382.6,223.1 L393.5,231.2 L404.2,233.8 L414.6,239.9" fill="none" stroke="#a3042f" stroke-width="1.5" stroke-linejoin="round"/>
<path d="M307.8,187.0V194.0M305.7,187.0H309.9M305.7,194.0H309.9" stroke="#a3042f" stroke-width="1" fill="none" opacity="0.85"/>
<path d="M318.1,192.0V199.3M316.0,192.0H320.2M316.0,199.3H320.2" stroke="#a3042f" stroke-width="1" fill="none" opacity="0.85"/>
<path d="M328.5,199.6V206.5M326.4,199.6H330.6M326.4,206.5H330.6" stroke="#a3042f" stroke-width="1" fill="none" opacity="0.85"/>
<path d="M339.3,204.2V210.0M337.2,204.2H341.4M337.2,210.0H341.4" stroke="#a3042f" stroke-width="1" fill="none" opacity="0.85"/>
<path d="M350.6,205.0V211.5M348.5,205.0H352.7M348.5,211.5H352.7" stroke="#a3042f" stroke-width="1" fill="none" opacity="0.85"/>
<path d="M361.8,209.0V215.0M359.7,209.0H363.9M359.7,215.0H363.9" stroke="#a3042f" stroke-width="1" fill="none" opacity="0.85"/>
<path d="M372.2,214.5V220.5M370.1,214.5H374.3M370.1,220.5H374.3" stroke="#a3042f" stroke-width="1" fill="none" opacity="0.85"/>
<path d="M382.6,220.5V226.0M380.5,220.5H384.7M380.5,226.0H384.7" stroke="#a3042f" stroke-width="1" fill="none" opacity="0.85"/>
<path d="M393.5,228.5V234.0M391.4,228.5H395.6M391.4,234.0H395.6" stroke="#a3042f" stroke-width="1" fill="none" opacity="0.85"/>
<path d="M278.7,188.0L282.90000000000003,188.0L280.8,184.6Z" fill="#a3042f"/>
<path d="M305.7,191.6L309.90000000000003,191.6L307.8,188.2Z" fill="#a3042f"/>
<path d="M316.0,197.3L320.20000000000005,197.3L318.1,193.9Z" fill="#a3042f"/>
<path d="M326.4,205.0L330.6,205.0L328.5,201.6Z" fill="#a3042f"/>
<path d="M337.2,209.0L341.40000000000003,209.0L339.3,205.6Z" fill="#a3042f"/>
<path d="M348.5,209.9L352.70000000000005,209.9L350.6,206.5Z" fill="#a3042f"/>
<path d="M359.7,213.4L363.90000000000003,213.4L361.8,210.0Z" fill="#a3042f"/>
<path d="M370.09999999999997,218.9L374.3,218.9L372.2,215.5Z" fill="#a3042f"/>
<path d="M380.5,224.6L384.70000000000005,224.6L382.6,221.2Z" fill="#a3042f"/>
<path d="M391.4,232.7L395.6,232.7L393.5,229.29999999999998Z" fill="#a3042f"/>
<path d="M402.09999999999997,235.3L406.3,235.3L404.2,231.9Z" fill="#a3042f"/>
<path d="M412.5,241.4L416.70000000000005,241.4L414.6,238.0Z" fill="#a3042f"/>
<path d="M280.8,192.2 L307.8,190.4 L318.1,198.4 L328.5,187.3 L339.3,188.5 L350.6,187.5 L361.8,186.4 L372.2,186.5 L382.6,186.8 L393.5,185.7 L404.2,186.8 L414.6,188.0" fill="none" stroke="#24467f" stroke-width="1.5" stroke-linejoin="round"/>
<path d="M280.8,189.6V196.2M278.7,189.6H282.9M278.7,196.2H282.9" stroke="#24467f" stroke-width="1" fill="none" opacity="0.85"/>
<path d="M307.8,188.0V193.0M305.7,188.0H309.9M305.7,193.0H309.9" stroke="#24467f" stroke-width="1" fill="none" opacity="0.85"/>
<path d="M318.1,194.2V203.5M316.0,194.2H320.2M316.0,203.5H320.2" stroke="#24467f" stroke-width="1" fill="none" opacity="0.85"/>
<path d="M339.3,185.5V191.5M337.2,185.5H341.4M337.2,191.5H341.4" stroke="#24467f" stroke-width="1" fill="none" opacity="0.85"/>
<circle cx="280.8" cy="192.2" r="1.9" fill="#24467f"/>
<circle cx="307.8" cy="190.4" r="1.9" fill="#24467f"/>
<circle cx="318.1" cy="198.4" r="1.9" fill="#24467f"/>
<circle cx="328.5" cy="187.3" r="1.9" fill="#24467f"/>
<circle cx="339.3" cy="188.5" r="1.9" fill="#24467f"/>
<circle cx="350.6" cy="187.5" r="1.9" fill="#24467f"/>
<circle cx="361.8" cy="186.4" r="1.9" fill="#24467f"/>
<circle cx="372.2" cy="186.5" r="1.9" fill="#24467f"/>
<circle cx="382.6" cy="186.8" r="1.9" fill="#24467f"/>
<circle cx="393.5" cy="185.7" r="1.9" fill="#24467f"/>
<circle cx="404.2" cy="186.8" r="1.9" fill="#24467f"/>
<circle cx="414.6" cy="188" r="1.9" fill="#24467f"/>
<path d="M280.8,185.8 L307.8,185.5 L318.1,187.0 L328.5,187.0 L339.3,188.0 L350.6,187.1 L361.8,186.2 L372.2,186.8 L382.6,185.0 L393.5,185.9 L404.2,186.8 L414.6,190.2" fill="none" stroke="#66a843" stroke-width="1.5" stroke-linejoin="round"/>
<rect x="279.0" y="184.0" width="3.6" height="3.6" fill="#66a843"/>
<rect x="306.0" y="183.7" width="3.6" height="3.6" fill="#66a843"/>
<rect x="316.3" y="185.2" width="3.6" height="3.6" fill="#66a843"/>
<rect x="326.7" y="185.2" width="3.6" height="3.6" fill="#66a843"/>
<rect x="337.5" y="186.2" width="3.6" height="3.6" fill="#66a843"/>
<rect x="348.8" y="185.29999999999998" width="3.6" height="3.6" fill="#66a843"/>
<rect x="360.0" y="184.39999999999998" width="3.6" height="3.6" fill="#66a843"/>
<rect x="370.4" y="185.0" width="3.6" height="3.6" fill="#66a843"/>
<rect x="380.8" y="183.2" width="3.6" height="3.6" fill="#66a843"/>
<rect x="391.7" y="184.1" width="3.6" height="3.6" fill="#66a843"/>
<rect x="402.4" y="185.0" width="3.6" height="3.6" fill="#66a843"/>
<rect x="412.8" y="188.39999999999998" width="3.6" height="3.6" fill="#66a843"/>
<line x1="428.7" y1="190.2" x2="428.7" y2="269" stroke="#111" stroke-width="1"/>
<circle cx="433.1" cy="226.8" r="0.95" fill="#111"/>
<circle cx="433.1" cy="229.7" r="0.95" fill="#111"/>
<circle cx="433.1" cy="232.5" r="0.95" fill="#111"/>
<text x="7.8" y="333.8" font-size="12.2" text-anchor="start" stroke="#000" stroke-width="0.4" font-weight="bold" fill="#000">E</text>
<line x1="47.1" y1="342.7" x2="47.1" y2="438.6" stroke="#111" stroke-width="1.2"/>
<line x1="43.800000000000004" y1="438.2" x2="47.1" y2="438.2" stroke="#111" stroke-width="1"/>
<text x="40.9" y="441.2" font-size="8.9" text-anchor="end" stroke="#111" stroke-width="0.12" fill="#111" textLength="4.5" lengthAdjust="spacingAndGlyphs">0</text>
<line x1="43.800000000000004" y1="419.62" x2="47.1" y2="419.62" stroke="#111" stroke-width="1"/>
<text x="40.9" y="422.62" font-size="8.9" text-anchor="end" stroke="#111" stroke-width="0.12" fill="#111" textLength="9.01" lengthAdjust="spacingAndGlyphs">20</text>
<line x1="43.800000000000004" y1="401.04" x2="47.1" y2="401.04" stroke="#111" stroke-width="1"/>
<text x="40.9" y="404.04" font-size="8.9" text-anchor="end" stroke="#111" stroke-width="0.12" fill="#111" textLength="9.01" lengthAdjust="spacingAndGlyphs">40</text>
<line x1="43.800000000000004" y1="382.46000000000004" x2="47.1" y2="382.46000000000004" stroke="#111" stroke-width="1"/>
<text x="40.9" y="385.46000000000004" font-size="8.9" text-anchor="end" stroke="#111" stroke-width="0.12" fill="#111" textLength="9.01" lengthAdjust="spacingAndGlyphs">60</text>
<line x1="43.800000000000004" y1="363.88" x2="47.1" y2="363.88" stroke="#111" stroke-width="1"/>
<text x="40.9" y="366.88" font-size="8.9" text-anchor="end" stroke="#111" stroke-width="0.12" fill="#111" textLength="9.01" lengthAdjust="spacingAndGlyphs">80</text>
<line x1="43.800000000000004" y1="345.3" x2="47.1" y2="345.3" stroke="#111" stroke-width="1"/>
<text x="40.9" y="348.3" font-size="8.9" text-anchor="end" stroke="#111" stroke-width="0.12" fill="#111" textLength="13.51" lengthAdjust="spacingAndGlyphs">100</text>
<line x1="44" y1="438" x2="188.5" y2="438" stroke="#111" stroke-width="1.3"/>
<line x1="46.9" y1="438" x2="46.9" y2="441" stroke="#111" stroke-width="0.9"/>
<text x="46.9" y="450.8" font-size="8.9" text-anchor="middle" stroke="#111" stroke-width="0.12" fill="#111" textLength="4.5" lengthAdjust="spacingAndGlyphs">1</text>
<line x1="93.4" y1="438" x2="93.4" y2="441" stroke="#111" stroke-width="0.9"/>
<text x="93.4" y="450.8" font-size="8.9" text-anchor="middle" stroke="#111" stroke-width="0.12" fill="#111" textLength="9.01" lengthAdjust="spacingAndGlyphs">10</text>
<line x1="139.5" y1="438" x2="139.5" y2="441" stroke="#111" stroke-width="0.9"/>
<text x="139.5" y="450.8" font-size="8.9" text-anchor="middle" stroke="#111" stroke-width="0.12" fill="#111" textLength="13.51" lengthAdjust="spacingAndGlyphs">100</text>
<line x1="185.8" y1="438" x2="185.8" y2="441" stroke="#111" stroke-width="0.9"/>
<text x="185.8" y="450.8" font-size="8.9" text-anchor="middle" stroke="#111" stroke-width="0.12" fill="#111" textLength="18.02" lengthAdjust="spacingAndGlyphs">1000</text>
<text x="72.3" y="465.7" font-size="11.8" text-anchor="start" stroke="#111" stroke-width="0.35" fill="#111" textLength="90.8" lengthAdjust="spacingAndGlyphs">Concentration of ADC (ng/ml)</text>
<text x="19.4" y="390" font-size="9.3" text-anchor="middle" stroke="#111" stroke-width="0.3" fill="#111" textLength="44" lengthAdjust="spacingAndGlyphs" transform="rotate(-90 19.4 390)">% cell viability</text>
<line x1="172.5" y1="345.4" x2="185.6" y2="348.6" stroke="#24467f" stroke-width="1.3"/>
<path d="M47.3,349.8 L59.0,350.4 L72.4,351.6 L86.2,352.7 L101.2,353.8 L116.1,353.2 L129.9,353.2 L143.7,353.2 L157.6,354.4 L171.9,353.7 L185.6,352.8" fill="none" stroke="#502366" stroke-width="1.5" stroke-linejoin="round"/>
<path d="M45.199999999999996,348.3L49.4,348.3L47.3,351.7Z" fill="#502366"/>
<path d="M56.9,348.9L61.1,348.9L59,352.29999999999995Z" fill="#502366"/>
<path d="M70.30000000000001,350.1L74.5,350.1L72.4,353.5Z" fill="#502366"/>
<path d="M84.10000000000001,351.2L88.3,351.2L86.2,354.59999999999997Z" fill="#502366"/>
<path d="M99.10000000000001,352.3L103.3,352.3L101.2,355.7Z" fill="#502366"/>
<path d="M114.0,351.7L118.19999999999999,351.7L116.1,355.09999999999997Z" fill="#502366"/>
<path d="M127.80000000000001,351.7L132.0,351.7L129.9,355.09999999999997Z" fill="#502366"/>
<path d="M141.6,351.7L145.79999999999998,351.7L143.7,355.09999999999997Z" fill="#502366"/>
<path d="M155.5,352.9L159.7,352.9L157.6,356.29999999999995Z" fill="#502366"/>
<path d="M169.8,352.2L174.0,352.2L171.9,355.59999999999997Z" fill="#502366"/>
<path d="M183.5,351.3L187.7,351.3L185.6,354.7Z" fill="#502366"/>
<path d="M47.3,348.4 L59.0,348.0 L72.4,347.0 L86.2,349.6 L101.2,349.6 L116.1,348.5 L129.9,349.2 L143.7,348.0 L157.6,350.9 L171.9,348.0 L185.6,350.2" fill="none" stroke="#66a843" stroke-width="1.5" stroke-linejoin="round"/>
<path d="M72.4,345.0V349.0M70.3,345.0H74.5M70.3,349.0H74.5" stroke="#66a843" stroke-width="1" fill="none" opacity="0.85"/>
<path d="M86.2,346.5V352.5M84.1,346.5H88.3M84.1,352.5H88.3" stroke="#66a843" stroke-width="1" fill="none" opacity="0.85"/>
<path d="M101.2,346.5V352.0M99.1,346.5H103.3M99.1,352.0H103.3" stroke="#66a843" stroke-width="1" fill="none" opacity="0.85"/>
<path d="M116.1,346.5V350.5M114.0,346.5H118.2M114.0,350.5H118.2" stroke="#66a843" stroke-width="1" fill="none" opacity="0.85"/>
<path d="M129.9,346.5V351.5M127.8,346.5H132.0M127.8,351.5H132.0" stroke="#66a843" stroke-width="1" fill="none" opacity="0.85"/>
<path d="M157.6,347.5V354.0M155.5,347.5H159.7M155.5,354.0H159.7" stroke="#66a843" stroke-width="1" fill="none" opacity="0.85"/>
<path d="M171.9,345.5V351.0M169.8,345.5H174.0M169.8,351.0H174.0" stroke="#66a843" stroke-width="1" fill="none" opacity="0.85"/>
<rect x="45.5" y="346.59999999999997" width="3.6" height="3.6" fill="#66a843"/>
<rect x="57.2" y="346.2" width="3.6" height="3.6" fill="#66a843"/>
<rect x="70.60000000000001" y="345.2" width="3.6" height="3.6" fill="#66a843"/>
<rect x="84.4" y="347.8" width="3.6" height="3.6" fill="#66a843"/>
<rect x="99.4" y="347.8" width="3.6" height="3.6" fill="#66a843"/>
<rect x="114.3" y="346.7" width="3.6" height="3.6" fill="#66a843"/>
<rect x="128.1" y="347.4" width="3.6" height="3.6" fill="#66a843"/>
<rect x="141.89999999999998" y="346.2" width="3.6" height="3.6" fill="#66a843"/>
<rect x="155.79999999999998" y="349.09999999999997" width="3.6" height="3.6" fill="#66a843"/>
<rect x="170.1" y="346.2" width="3.6" height="3.6" fill="#66a843"/>
<rect x="183.79999999999998" y="348.4" width="3.6" height="3.6" fill="#66a843"/>
<path d="M47.3,346.7 L59.0,346.5 L72.4,349.2 L86.2,352.7 L101.2,355.0 L116.1,356.6 L129.9,362.3 L143.7,366.1 L157.6,373.9 L171.9,384.8 L185.6,386.9" fill="none" stroke="#a3042f" stroke-width="1.5" stroke-linejoin="round"/>
<path d="M86.2,348.8V356.2M84.1,348.8H88.3M84.1,356.2H88.3" stroke="#a3042f" stroke-width="1" fill="none" opacity="0.85"/>
<path d="M157.6,371.4V376.4M155.5,371.4H159.7M155.5,376.4H159.7" stroke="#a3042f" stroke-width="1" fill="none" opacity="0.85"/>
<path d="M171.9,379.6V388.6M169.8,379.6H174.0M169.8,388.6H174.0" stroke="#a3042f" stroke-width="1" fill="none" opacity="0.85"/>
<path d="M185.6,382.1V392.1M183.5,382.1H187.7M183.5,392.1H187.7" stroke="#a3042f" stroke-width="1" fill="none" opacity="0.85"/>
<path d="M45.199999999999996,348.2L49.4,348.2L47.3,344.8Z" fill="#a3042f"/>
<path d="M56.9,348.0L61.1,348.0L59,344.6Z" fill="#a3042f"/>
<path d="M70.30000000000001,350.7L74.5,350.7L72.4,347.3Z" fill="#a3042f"/>
<path d="M84.10000000000001,354.2L88.3,354.2L86.2,350.8Z" fill="#a3042f"/>
<path d="M99.10000000000001,356.5L103.3,356.5L101.2,353.1Z" fill="#a3042f"/>
<path d="M114.0,358.1L118.19999999999999,358.1L116.1,354.70000000000005Z" fill="#a3042f"/>
<path d="M127.80000000000001,363.8L132.0,363.8L129.9,360.40000000000003Z" fill="#a3042f"/>
<path d="M141.6,367.6L145.79999999999998,367.6L143.7,364.20000000000005Z" fill="#a3042f"/>
<path d="M155.5,375.4L159.7,375.4L157.6,372.0Z" fill="#a3042f"/>
<path d="M169.8,386.3L174.0,386.3L171.9,382.90000000000003Z" fill="#a3042f"/>
<path d="M183.5,388.4L187.7,388.4L185.6,385.0Z" fill="#a3042f"/>
<text x="240.1" y="333.8" font-size="12.2" text-anchor="start" stroke="#000" stroke-width="0.4" font-weight="bold" fill="#000">F</text>
<line x1="274.5" y1="342.1" x2="274.5" y2="438.6" stroke="#111" stroke-width="1.2"/>
<line x1="271.2" y1="438.2" x2="274.5" y2="438.2" stroke="#111" stroke-width="1"/>
<text x="267.8" y="441.2" font-size="8.9" text-anchor="end" stroke="#111" stroke-width="0.12" fill="#111" textLength="4.5" lengthAdjust="spacingAndGlyphs">0</text>
<line x1="271.2" y1="419.52" x2="274.5" y2="419.52" stroke="#111" stroke-width="1"/>
<text x="267.8" y="422.52" font-size="8.9" text-anchor="end" stroke="#111" stroke-width="0.12" fill="#111" textLength="9.01" lengthAdjust="spacingAndGlyphs">20</text>
<line x1="271.2" y1="400.84" x2="274.5" y2="400.84" stroke="#111" stroke-width="1"/>
<text x="267.8" y="403.84" font-size="8.9" text-anchor="end" stroke="#111" stroke-width="0.12" fill="#111" textLength="9.01" lengthAdjust="spacingAndGlyphs">40</text>
<line x1="271.2" y1="382.16" x2="274.5" y2="382.16" stroke="#111" stroke-width="1"/>
<text x="267.8" y="385.16" font-size="8.9" text-anchor="end" stroke="#111" stroke-width="0.12" fill="#111" textLength="9.01" lengthAdjust="spacingAndGlyphs">60</text>
<line x1="271.2" y1="363.48" x2="274.5" y2="363.48" stroke="#111" stroke-width="1"/>
<text x="267.8" y="366.48" font-size="8.9" text-anchor="end" stroke="#111" stroke-width="0.12" fill="#111" textLength="9.01" lengthAdjust="spacingAndGlyphs">80</text>
<line x1="271.2" y1="344.8" x2="274.5" y2="344.8" stroke="#111" stroke-width="1"/>
<text x="267.8" y="347.8" font-size="8.9" text-anchor="end" stroke="#111" stroke-width="0.12" fill="#111" textLength="13.51" lengthAdjust="spacingAndGlyphs">100</text>
<line x1="271.4" y1="438" x2="417.7" y2="438" stroke="#111" stroke-width="1.3"/>
<line x1="274.5" y1="438" x2="274.5" y2="441" stroke="#111" stroke-width="0.9"/>
<text x="274.5" y="451.7" font-size="8.9" text-anchor="middle" stroke="#111" stroke-width="0.12" fill="#111" textLength="11.26" lengthAdjust="spacingAndGlyphs">0.1</text>
<line x1="309.6" y1="438" x2="309.6" y2="441" stroke="#111" stroke-width="0.9"/>
<text x="309.6" y="451.7" font-size="8.9" text-anchor="middle" stroke="#111" stroke-width="0.12" fill="#111" textLength="4.5" lengthAdjust="spacingAndGlyphs">1</text>
<line x1="344.3" y1="438" x2="344.3" y2="441" stroke="#111" stroke-width="0.9"/>
<text x="344.3" y="451.7" font-size="8.9" text-anchor="middle" stroke="#111" stroke-width="0.12" fill="#111" textLength="9.01" lengthAdjust="spacingAndGlyphs">10</text>
<line x1="379.7" y1="438" x2="379.7" y2="441" stroke="#111" stroke-width="0.9"/>
<text x="379.7" y="451.7" font-size="8.9" text-anchor="middle" stroke="#111" stroke-width="0.12" fill="#111" textLength="13.51" lengthAdjust="spacingAndGlyphs">100</text>
<line x1="414.9" y1="438" x2="414.9" y2="441" stroke="#111" stroke-width="0.9"/>
<text x="414.9" y="451.7" font-size="8.9" text-anchor="middle" stroke="#111" stroke-width="0.12" fill="#111" textLength="18.02" lengthAdjust="spacingAndGlyphs">1000</text>
<text x="300.4" y="465.7" font-size="11.8" text-anchor="start" stroke="#111" stroke-width="0.35" fill="#111" textLength="90.4" lengthAdjust="spacingAndGlyphs">Concentration of ADC (ng/ml)</text>
<text x="247.8" y="389.4" font-size="9.3" text-anchor="middle" stroke="#111" stroke-width="0.3" fill="#111" textLength="44.2" lengthAdjust="spacingAndGlyphs" transform="rotate(-90 247.8 389.4)">% cell viability</text>
<line x1="454.3" y1="344.1" x2="463.7" y2="344.1" stroke="#24467f" stroke-width="1.3"/>
<circle cx="458.9" cy="344.1" r="1.9" fill="#24467f"/>
<text x="467.2" y="346.70000000000005" font-size="7.5" text-anchor="start" stroke="#111" stroke-width="0.1" fill="#111" textLength="42" lengthAdjust="spacingAndGlyphs">HER2-TDM1</text>
<line x1="454.3" y1="354" x2="463.7" y2="354" stroke="#66a843" stroke-width="1.3"/>
<rect x="457.09999999999997" y="352.2" width="3.6" height="3.6" fill="#66a843"/>
<text x="467.2" y="356.6" font-size="7.5" text-anchor="start" stroke="#111" stroke-width="0.1" fill="#111" textLength="44" lengthAdjust="spacingAndGlyphs">ICOS-MMAE</text>
<line x1="454.3" y1="363.7" x2="463.7" y2="363.7" stroke="#502366" stroke-width="1.3"/>
<path d="M456.79999999999995,362.2L461.0,362.2L458.9,365.59999999999997Z" fill="#502366"/>
<text x="467.2" y="366.3" font-size="7.5" text-anchor="start" stroke="#111" stroke-width="0.1" fill="#111" textLength="37.5" lengthAdjust="spacingAndGlyphs">ICOS-PBD</text>
<line x1="454.3" y1="373.4" x2="463.7" y2="373.4" stroke="#a3042f" stroke-width="1.3"/>
<path d="M456.79999999999995,374.9L461.0,374.9L458.9,371.5Z" fill="#a3042f"/>
<text x="467.2" y="376.0" font-size="7.5" text-anchor="start" stroke="#111" stroke-width="0.1" fill="#111" textLength="44.5" lengthAdjust="spacingAndGlyphs">CD30-MMAE</text>
<path d="M280.4,347.5 L307.9,366.8 L318.1,375.3 L328.5,384.9 L339.0,397.8 L350.7,408.5 L362.0,412.9 L372.4,415.4 L382.9,416.7 L393.6,417.2 L404.0,418.4 L414.7,418.4" fill="none" stroke="#66a843" stroke-width="1.5" stroke-linejoin="round"/>
<path d="M280.4,346.0V352.4M278.3,346.0H282.5M278.3,352.4H282.5" stroke="#66a843" stroke-width="1" fill="none" opacity="0.85"/>
<path d="M307.9,352.0V380.7M305.8,352.0H310.0M305.8,380.7H310.0" stroke="#66a843" stroke-width="1" fill="none" opacity="0.85"/>
<path d="M318.1,360.3V390.0M316.0,360.3H320.2M316.0,390.0H320.2" stroke="#66a843" stroke-width="1" fill="none" opacity="0.85"/>
<path d="M328.5,375.3V395.2M326.4,375.3H330.6M326.4,395.2H330.6" stroke="#66a843" stroke-width="1" fill="none" opacity="0.85"/>
<path d="M339.0,389.3V405.5M336.9,389.3H341.1M336.9,405.5H341.1" stroke="#66a843" stroke-width="1" fill="none" opacity="0.85"/>
<path d="M350.7,403.9V411.1M348.6,403.9H352.8M348.6,411.1H352.8" stroke="#66a843" stroke-width="1" fill="none" opacity="0.85"/>
<path d="M362.0,409.0V416.5M359.9,409.0H364.1M359.9,416.5H364.1" stroke="#66a843" stroke-width="1" fill="none" opacity="0.85"/>
<path d="M372.4,411.1V418.9M370.3,411.1H374.5M370.3,418.9H374.5" stroke="#66a843" stroke-width="1" fill="none" opacity="0.85"/>
<path d="M382.9,412.5V421.2M380.8,412.5H385.0M380.8,421.2H385.0" stroke="#66a843" stroke-width="1" fill="none" opacity="0.85"/>
<path d="M393.6,413.0V421.2M391.5,413.0H395.7M391.5,421.2H395.7" stroke="#66a843" stroke-width="1" fill="none" opacity="0.85"/>
<path d="M404.0,414.6V422.4M401.9,414.6H406.1M401.9,422.4H406.1" stroke="#66a843" stroke-width="1" fill="none" opacity="0.85"/>
<path d="M414.7,414.6V422.4M412.6,414.6H416.8M412.6,422.4H416.8" stroke="#66a843" stroke-width="1" fill="none" opacity="0.85"/>
<rect x="278.59999999999997" y="345.7" width="3.6" height="3.6" fill="#66a843"/>
<rect x="306.09999999999997" y="365.0" width="3.6" height="3.6" fill="#66a843"/>
<rect x="316.3" y="373.5" width="3.6" height="3.6" fill="#66a843"/>
<rect x="326.7" y="383.09999999999997" width="3.6" height="3.6" fill="#66a843"/>
<rect x="337.2" y="396.0" width="3.6" height="3.6" fill="#66a843"/>
<rect x="348.9" y="406.7" width="3.6" height="3.6" fill="#66a843"/>
<rect x="360.2" y="411.09999999999997" width="3.6" height="3.6" fill="#66a843"/>
<rect x="370.59999999999997" y="413.59999999999997" width="3.6" height="3.6" fill="#66a843"/>
<rect x="381.09999999999997" y="414.9" width="3.6" height="3.6" fill="#66a843"/>
<rect x="391.8" y="415.4" width="3.6" height="3.6" fill="#66a843"/>
<rect x="402.2" y="416.59999999999997" width="3.6" height="3.6" fill="#66a843"/>
<rect x="412.9" y="416.59999999999997" width="3.6" height="3.6" fill="#66a843"/>
<path d="M280.4,347.0 L307.9,415.3 L318.1,417.9 L328.5,418.7 L339.0,419.5 L350.7,419.3 L362.0,419.8 L372.4,419.8 L382.9,419.8 L393.6,419.4 L404.0,419.4 L414.7,419.3" fill="none" stroke="#502366" stroke-width="1.5" stroke-linejoin="round"/>
<path d="M278.29999999999995,345.5L282.5,345.5L280.4,348.9Z" fill="#502366"/>
<path d="M305.79999999999995,413.8L310.0,413.8L307.9,417.2Z" fill="#502366"/>
<path d="M316.0,416.4L320.20000000000005,416.4L318.1,419.79999999999995Z" fill="#502366"/>
<path d="M326.4,417.2L330.6,417.2L328.5,420.59999999999997Z" fill="#502366"/>
<path d="M336.9,418.0L341.1,418.0L339,421.4Z" fill="#502366"/>
<path d="M348.59999999999997,417.8L352.8,417.8L350.7,421.2Z" fill="#502366"/>
<path d="M359.9,418.3L364.1,418.3L362,421.7Z" fill="#502366"/>
<path d="M370.29999999999995,418.3L374.5,418.3L372.4,421.7Z" fill="#502366"/>
<path d="M380.79999999999995,418.3L385.0,418.3L382.9,421.7Z" fill="#502366"/>
<path d="M391.5,417.9L395.70000000000005,417.9L393.6,421.29999999999995Z" fill="#502366"/>
<path d="M401.9,417.9L406.1,417.9L404,421.29999999999995Z" fill="#502366"/>
<path d="M412.59999999999997,417.8L416.8,417.8L414.7,421.2Z" fill="#502366"/>
<path d="M280.4,346.6 L307.9,367.6 L318.1,375.0 L328.5,379.2 L339.0,381.5 L350.7,384.3 L362.0,387.2 L372.4,388.3 L382.9,390.7 L393.6,392.1 L404.0,394.2 L414.7,393.0" fill="none" stroke="#a3042f" stroke-width="1.5" stroke-linejoin="round"/>
<path d="M307.9,350.8V383.8M305.8,350.8H310.0M305.8,383.8H310.0" stroke="#a3042f" stroke-width="1" fill="none" opacity="0.85"/>
<path d="M318.1,354.7V393.6M316.0,354.7H320.2M316.0,393.6H320.2" stroke="#a3042f" stroke-width="1" fill="none" opacity="0.85"/>
<path d="M328.5,359.0V397.8M326.4,359.0H330.6M326.4,397.8H330.6" stroke="#a3042f" stroke-width="1" fill="none" opacity="0.85"/>
<path d="M339.0,362.1V400.0M336.9,362.1H341.1M336.9,400.0H341.1" stroke="#a3042f" stroke-width="1" fill="none" opacity="0.85"/>
<path d="M350.7,368.2V399.4M348.6,368.2H352.8M348.6,399.4H352.8" stroke="#a3042f" stroke-width="1" fill="none" opacity="0.85"/>
<path d="M362.0,373.9V400.4M359.9,373.9H364.1M359.9,400.4H364.1" stroke="#a3042f" stroke-width="1" fill="none" opacity="0.85"/>
<path d="M372.4,374.4V400.7M370.3,374.4H374.5M370.3,400.7H374.5" stroke="#a3042f" stroke-width="1" fill="none" opacity="0.85"/>
<path d="M382.9,379.6V400.7M380.8,379.6H385.0M380.8,400.7H385.0" stroke="#a3042f" stroke-width="1" fill="none" opacity="0.85"/>
<path d="M393.6,381.4V401.6M391.5,381.4H395.7M391.5,401.6H395.7" stroke="#a3042f" stroke-width="1" fill="none" opacity="0.85"/>
<path d="M404.0,387.8V400.4M401.9,387.8H406.1M401.9,400.4H406.1" stroke="#a3042f" stroke-width="1" fill="none" opacity="0.85"/>
<path d="M414.7,386.0V399.0M412.6,386.0H416.8M412.6,399.0H416.8" stroke="#a3042f" stroke-width="1" fill="none" opacity="0.85"/>
<path d="M278.29999999999995,348.1L282.5,348.1L280.4,344.70000000000005Z" fill="#a3042f"/>
<path d="M305.79999999999995,369.1L310.0,369.1L307.9,365.70000000000005Z" fill="#a3042f"/>
<path d="M316.0,376.5L320.20000000000005,376.5L318.1,373.1Z" fill="#a3042f"/>
<path d="M326.4,380.7L330.6,380.7L328.5,377.3Z" fill="#a3042f"/>
<path d="M336.9,383.0L341.1,383.0L339,379.6Z" fill="#a3042f"/>
<path d="M348.59999999999997,385.8L352.8,385.8L350.7,382.40000000000003Z" fill="#a3042f"/>
<path d="M359.9,388.7L364.1,388.7L362,385.3Z" fill="#a3042f"/>
<path d="M370.29999999999995,389.8L374.5,389.8L372.4,386.40000000000003Z" fill="#a3042f"/>
<path d="M380.79999999999995,392.2L385.0,392.2L382.9,388.8Z" fill="#a3042f"/>
<path d="M391.5,393.6L395.70000000000005,393.6L393.6,390.20000000000005Z" fill="#a3042f"/>
<path d="M401.9,395.7L406.1,395.7L404,392.3Z" fill="#a3042f"/>
<path d="M412.59999999999997,394.5L416.8,394.5L414.7,391.1Z" fill="#a3042f"/>
<path d="M280.4,344.6 L318.1,344.6 L328.5,345.2 L339.0,345.4 L350.7,345.4 L362.0,345.2 L372.4,344.9 L382.9,345.4 L393.6,344.9 L404.0,347.5 L414.7,357.1" fill="none" stroke="#24467f" stroke-width="1.5" stroke-linejoin="round"/>
<path d="M404.0,345.0V350.0M401.9,345.0H406.1M401.9,350.0H406.1" stroke="#24467f" stroke-width="1" fill="none" opacity="0.85"/>
<path d="M414.7,353.7V360.1M412.6,353.7H416.8M412.6,360.1H416.8" stroke="#24467f" stroke-width="1" fill="none" opacity="0.85"/>
<circle cx="280.4" cy="344.6" r="1.9" fill="#24467f"/>
<circle cx="318.1" cy="344.6" r="1.9" fill="#24467f"/>
<circle cx="328.5" cy="345.2" r="1.9" fill="#24467f"/>
<circle cx="339" cy="345.4" r="1.9" fill="#24467f"/>
<circle cx="350.7" cy="345.4" r="1.9" fill="#24467f"/>
<circle cx="362" cy="345.2" r="1.9" fill="#24467f"/>
<circle cx="372.4" cy="344.9" r="1.9" fill="#24467f"/>
<circle cx="382.9" cy="345.4" r="1.9" fill="#24467f"/>
<circle cx="393.6" cy="344.9" r="1.9" fill="#24467f"/>
<circle cx="404" cy="347.5" r="1.9" fill="#24467f"/>
<circle cx="414.7" cy="357.1" r="1.9" fill="#24467f"/>
<line x1="422.2" y1="356.6" x2="422.2" y2="419.8" stroke="#111" stroke-width="1"/>
<circle cx="426.5" cy="385.0" r="0.95" fill="#111"/>
<circle cx="426.5" cy="388.1" r="0.95" fill="#111"/>
<circle cx="426.5" cy="391.1" r="0.95" fill="#111"/>
<text x="7.6" y="493.7" font-size="12.2" text-anchor="start" stroke="#000" stroke-width="0.4" font-weight="bold" fill="#000">G</text>
<rect x="44" y="512.9" width="290" height="11.899999999999977" fill="#c8c9dd"/>
<rect x="44" y="537.3" width="290" height="11.800000000000068" fill="#c8c9dd"/>
<rect x="44" y="561.5" width="290" height="11.700000000000045" fill="#c8c9dd"/>
<line x1="44" y1="500.5" x2="334" y2="500.5" stroke="#222" stroke-width="1.1"/>
<line x1="44" y1="512.6" x2="334" y2="512.6" stroke="#1a1a1a" stroke-width="1.3"/>
<line x1="44" y1="573.8" x2="334" y2="573.8" stroke="#1a1a1a" stroke-width="1.3"/>
<text x="152.4" y="508.8" font-size="7.8" text-anchor="middle" font-weight="bold" fill="#5aa83a" textLength="46.3" lengthAdjust="spacingAndGlyphs">ICOS-MMAE</text>
<text x="224.3" y="508.8" font-size="7.8" text-anchor="middle" font-weight="bold" fill="#4b2270" textLength="39" lengthAdjust="spacingAndGlyphs">ICOS-PBD</text>
<text x="297.2" y="508.8" font-size="7.8" text-anchor="middle" font-weight="bold" fill="#a3042f" textLength="47.5" lengthAdjust="spacingAndGlyphs">CD30-MMAE</text>
<text x="79.8" y="520.8" font-size="7.7" text-anchor="middle" stroke="#000" stroke-width="0.12" font-weight="bold" fill="#000">MyLa</text>
<text x="152.4" y="520.8" font-size="7.9" text-anchor="middle" stroke="#1a1a1a" stroke-width="0.12" font-style="italic" fill="#1a1a1a">8.2</text>
<text x="224.5" y="520.8" font-size="7.9" text-anchor="middle" stroke="#1a1a1a" stroke-width="0.12" font-style="italic" fill="#1a1a1a">1.2</text>
<text x="297.2" y="520.8" font-size="7.9" text-anchor="middle" stroke="#1a1a1a" stroke-width="0.12" font-style="italic" fill="#1a1a1a">30.6</text>
<text x="79.8" y="533.0" font-size="7.7" text-anchor="middle" stroke="#000" stroke-width="0.12" font-weight="bold" fill="#000">MJ</text>
<text x="152.4" y="533.0" font-size="7.9" text-anchor="middle" stroke="#1a1a1a" stroke-width="0.12" font-style="italic" fill="#1a1a1a">36.2</text>
<text x="224.5" y="533.0" font-size="7.9" text-anchor="middle" stroke="#1a1a1a" stroke-width="0.12" font-style="italic" fill="#1a1a1a">0.8</text>
<text x="297.2" y="533.0" font-size="7.9" text-anchor="middle" stroke="#1a1a1a" stroke-width="0.12" font-style="italic" fill="#1a1a1a">6.5</text>
<text x="79.8" y="545.1999999999999" font-size="7.7" text-anchor="middle" stroke="#000" stroke-width="0.12" font-weight="bold" fill="#000">HUT78</text>
<text x="152.4" y="545.1999999999999" font-size="7.9" text-anchor="middle" stroke="#1a1a1a" stroke-width="0.12" font-style="italic" fill="#1a1a1a">1000</text>
<text x="224.5" y="545.1999999999999" font-size="7.9" text-anchor="middle" stroke="#1a1a1a" stroke-width="0.12" font-style="italic" fill="#1a1a1a">9</text>
<text x="297.2" y="545.1999999999999" font-size="7.9" text-anchor="middle" stroke="#1a1a1a" stroke-width="0.12" font-style="italic" fill="#1a1a1a">251.9</text>
<text x="79.8" y="557.4" font-size="7.7" text-anchor="middle" stroke="#000" stroke-width="0.12" font-weight="bold" fill="#000">Jurkat</text>
<text x="152.4" y="557.4" font-size="7.9" text-anchor="middle" stroke="#1a1a1a" stroke-width="0.12" font-style="italic" fill="#1a1a1a">&gt;1000</text>
<text x="224.5" y="557.4" font-size="7.9" text-anchor="middle" stroke="#1a1a1a" stroke-width="0.12" font-style="italic" fill="#1a1a1a">&gt;1000</text>
<text x="297.2" y="557.4" font-size="7.9" text-anchor="middle" stroke="#1a1a1a" stroke-width="0.12" font-style="italic" fill="#1a1a1a">733</text>
<text x="79.8" y="569.5999999999999" font-size="7.7" text-anchor="middle" stroke="#000" stroke-width="0.12" font-weight="bold" fill="#000">Jurkat-ICOS</text>
<text x="152.4" y="569.5999999999999" font-size="7.9" text-anchor="middle" stroke="#1a1a1a" stroke-width="0.12" font-style="italic" fill="#1a1a1a">6.7</text>
<text x="224.5" y="569.5999999999999" font-size="7.9" text-anchor="middle" stroke="#1a1a1a" stroke-width="0.12" font-style="italic" fill="#1a1a1a">0.7</text>
<text x="297.2" y="569.5999999999999" font-size="7.9" text-anchor="middle" stroke="#1a1a1a" stroke-width="0.12" font-style="italic" fill="#1a1a1a">128</text>
<rect x="0.55" y="0.55" width="518.9" height="579.9" fill="none" stroke="#000" stroke-width="1.1"/>
</svg>
</body></html>
